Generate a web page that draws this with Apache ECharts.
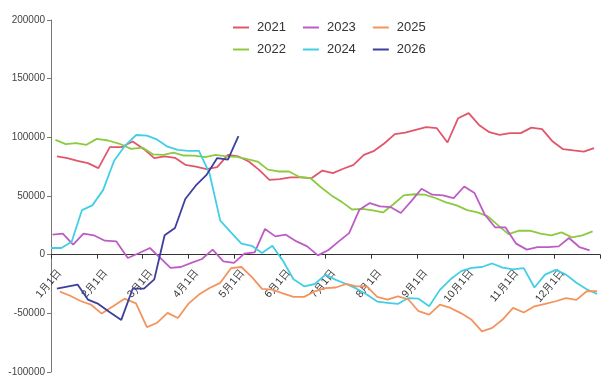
<!DOCTYPE html>
<html>
<head>
<meta charset="utf-8">
<script src="https://cdn.jsdelivr.net/npm/echarts@6/dist/echarts.min.js"></script>
<style>
html, body { margin: 0; padding: 0; background: #fff; }
#chart { width: 601px; height: 376px; }
</style>
</head>
<body>
<div id="chart"></div>
<script>
// weekly values per year, first week's date for each
var years = ['2021', '2022', '2023', '2024', '2025', '2026'];
var firstWeek = ['2021-01-05', '2022-01-04', '2023-01-02', '2024-01-01', '2025-01-07', '2026-01-05'];
var monthLabels = ['1月1日', '2月1日', '3月1日', '4月1日', '5月1日', '6月1日',
    '7月1日', '8月1日', '9月1日', '10月1日', '11月1日', '12月1日'];

var v2021 = [83700, 82300, 80000, 78000, 73800, 91600, 91600, 96400, 89900, 82300,
    83700, 82500, 76600, 75000, 73000, 74600, 85100, 83700, 79400, 72300,
    63800, 64400, 65800, 65800, 65300, 71700, 69500, 73200, 76600, 85100,
    88500, 95000, 102700, 104100, 106400, 108700, 107800, 95600, 116300, 120600,
    110600, 104400, 102100, 103600, 103600, 108300, 107000, 96400, 89900, 88800,
    87900, 90800];
var v2022 = [97900, 94200, 95000, 93600, 98700, 97300, 94500, 90200, 91300, 85500,
    85100, 87000, 84500, 84400, 83100, 85100, 83700, 83300, 81400, 79400,
    72500, 70900, 70900, 66200, 65300, 57500, 50500, 45000, 38500, 39000,
    37700, 36000, 43000, 50500, 51500, 51100, 48300, 44500, 42000, 38000,
    36000, 32600, 25000, 17500, 20500, 20400, 17900, 16500, 19000, 14700,
    16500, 19800];
var v2023 = [17000, 17900, 8500, 17900, 16500, 11900, 11300, -2800, 1400, 5700,
    -2800, -11300, -10500, -7000, -3700, 4300, -5700, -7000, 900, 2000,
    21900, 15600, 17000, 11300, 7100, -600, 4000, 11300, 18400, 38300,
    44000, 41100, 40600, 35500, 45400, 56200, 51100, 50500, 48200, 58100,
    52500, 34000, 23200, 23200, 9400, 4300, 6500, 6500, 7100, 14200,
    6500, 3700];
var v2024 = [5700, 5700, 11000, 38000, 42000, 55000, 80000, 93000, 102000, 101500,
    98000, 92000, 89400, 88500, 88500, 69000, 29000, 19000, 9500, 7500,
    1500, 7500, -5000, -21000, -27000, -25000, -17000, -21500, -25000, -29000,
    -34000, -40000, -41000, -42000, -37000, -37500, -44000, -30000, -21000, -14000,
    -11300, -10500, -7500, -11000, -12500, -11500, -28000, -17000, -13000, -17000,
    -24000, -29500, -33500];
var v2025 = [-31500, -35000, -39500, -42500, -50200, -44000, -37500, -41500, -61800, -58000,
    -49600, -54000, -42000, -34000, -28400, -24000, -11500, -10500, -19000, -29200,
    -29800, -33000, -36000, -36000, -31200, -28500, -28000, -25000, -27000, -27000,
    -36000, -38300, -35500, -38000, -48200, -51100, -42500, -45400, -50000, -55500,
    -65300, -62400, -55300, -45400, -49300, -44000, -42000, -39700, -37000, -38500,
    -31200, -31200];
var v2026 = [-29000, -27200, -25500, -38300, -42000, -49000, -55600, -29000, -29000, -21000,
    16500, 22700, 47500, 59000, 68000, 82300, 81000, 101000];

var values = [v2021, v2022, v2023, v2024, v2025, v2026];
var colors = ['#e2566b', '#8ccb40', '#bd5cc6', '#42cfe6', '#f3945e', '#3d3f9e'];
var labelShift = 0.19;   // month labels sit a little right of their ticks
var font = "'Liberation Sans', Arial, sans-serif";
var yMin = -100000, yMax = 200000;
var grid = { left: 51, right: 1, top: 20, bottom: 4 };
var gridHeight = 376 - grid.top - grid.bottom;

// calendar date -> position in months (every month the same width)
function monthPos(t) {
    var d = new Date(t);
    var m = d.getUTCMonth();
    var dim = new Date(Date.UTC(d.getUTCFullYear(), m + 1, 0)).getUTCDate();
    return m + (d.getUTCDate() - 1) / dim;
}

var series = years.map(function (y, k) {
    var t0 = Date.parse(firstWeek[k] + 'T00:00:00Z');
    return {
        name: y,
        type: 'line',
        symbol: 'none',
        color: colors[k],
        lineStyle: { width: 1.8 },
        animation: false,
        data: values[k].map(function (v, i) {
            return [monthPos(t0 + i * 7 * 86400000), v];
        })
    };
});

var legendBase = {
    left: 228,
    icon: 'rect',
    itemWidth: 16,
    itemHeight: 2,
    itemGap: 17,
    textStyle: { fontFamily: font, fontSize: 13, color: '#333', padding: [0, 0, 0, 3] }
};

var myChart = echarts.init(document.getElementById('chart'));
myChart.setOption({
    backgroundColor: '#fff',
    legend: [
        Object.assign({ top: 16, data: ['2021', '2023', '2025'] }, legendBase),
        Object.assign({ top: 38, data: ['2022', '2024', '2026'] }, legendBase)
    ],
    grid: Object.assign({ containLabel: false, outerBoundsMode: 'none' }, grid),
    xAxis: [{
        type: 'value',
        min: 0,
        max: 12,
        interval: 1,
        axisLine: { onZero: true, lineStyle: { color: '#333', width: 1.2 } },
        axisTick: { show: true, length: 4, lineStyle: { color: '#333' } },
        axisLabel: { show: false },
        splitLine: { show: false }
    }, {
        // labels only, moved up to the zero line and a bit right of the ticks
        type: 'value',
        position: 'bottom',
        offset: -gridHeight * (0 - yMin) / (yMax - yMin),
        min: 0,
        max: 12,
        axisLine: { show: false, onZero: false },
        axisTick: { show: false },
        splitLine: { show: false },
        axisLabel: {
            customValues: monthLabels.map(function (s, k) { return k + labelShift; }),
            rotate: 50,
            margin: 16,
            fontSize: 10.5,
            fontFamily: font,
            color: '#333',
            formatter: function (v) {
                return monthLabels[Math.round(v - labelShift)] || '';
            }
        }
    }],
    yAxis: {
        type: 'value',
        min: yMin,
        max: yMax,
        interval: 50000,
        axisLine: { show: true, onZero: false, lineStyle: { color: '#777' } },
        axisTick: { show: true, length: 4, lineStyle: { color: '#777' } },
        splitLine: { show: false },
        axisLabel: {
            margin: 6,
            fontSize: 10,
            fontFamily: font,
            color: '#444',
            formatter: function (v) { return String(v); }
        }
    },
    series: series
});
</script>
</body>
</html>
